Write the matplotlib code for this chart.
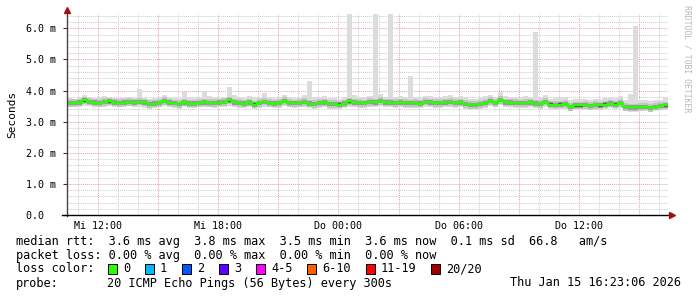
import numpy as np
import matplotlib
matplotlib.use("Agg")
import matplotlib.pyplot as plt
from matplotlib.lines import Line2D

# ---------------- data (ms), 15-minute steps from Wed 10:27 ----------------
start_hour = 10.45
step_hour = 0.25

rtt_median = [
    3.60, 3.60, 3.61, 3.68, 3.64, 3.61, 3.60, 3.63, 3.65, 3.61, 3.60, 3.61, 3.63, 3.61, 3.64, 3.62,
    3.57, 3.58, 3.60, 3.66, 3.61, 3.59, 3.57, 3.62, 3.58,
    3.58, 3.60, 3.62, 3.60, 3.60, 3.61, 3.63, 3.68, 3.62, 3.60, 3.58, 3.62, 3.55, 3.60, 3.64, 3.60,
    3.58, 3.60, 3.66, 3.60, 3.59, 3.60, 3.63, 3.58,
    3.57, 3.60, 3.62, 3.57, 3.57, 3.55, 3.58, 3.65, 3.62, 3.60, 3.59, 3.63, 3.62, 3.66, 3.62, 3.61,
    3.60, 3.62, 3.60, 3.59, 3.60, 3.58, 3.64, 3.62,
    3.60, 3.60, 3.62, 3.63, 3.60, 3.62, 3.57, 3.53, 3.54, 3.56, 3.60, 3.66, 3.60, 3.70, 3.62, 3.61,
    3.60, 3.59, 3.60, 3.62, 3.58, 3.56, 3.64,
    3.55, 3.54, 3.55, 3.56, 3.47, 3.52, 3.52, 3.53, 3.51, 3.53, 3.52, 3.55, 3.58, 3.55, 3.60, 3.47,
    3.46, 3.46, 3.47, 3.48, 3.44, 3.48, 3.50, 3.52,
]

rtt_max = [
    3.76, 3.74, 3.80, 3.85, 3.80, 3.76, 3.78, 3.82, 3.80, 3.76, 3.75, 3.78, 3.80, 3.77, 4.05, 3.80,
    3.74, 3.76, 3.78, 3.85, 3.80, 3.76, 3.75, 3.95, 3.78,
    3.76, 3.80, 4.00, 3.82, 3.78, 3.77, 3.80, 4.12, 3.85, 3.78, 3.76, 3.82, 3.78, 3.80, 3.92, 3.80,
    3.76, 3.78, 3.86, 3.80, 3.77, 3.78, 3.85, 4.30,
    3.80, 3.78, 3.82, 3.76, 3.75, 3.74, 3.80, 6.45, 3.85, 3.80, 3.78, 3.82, 6.45, 3.88, 3.80, 6.45,
    3.80, 3.82, 3.78, 4.47, 3.80, 3.78, 3.84, 3.82,
    3.78, 3.80, 3.84, 3.86, 3.80, 3.82, 3.78, 3.72, 3.74, 3.78, 3.82, 3.86, 3.80, 3.95, 3.84, 3.80,
    3.78, 3.80, 3.82, 3.80, 5.87, 3.78, 3.86,
    3.74, 3.76, 3.78, 3.80, 3.70, 3.72, 3.74, 3.72, 3.70, 3.74, 3.72, 3.76, 3.80, 3.76, 3.82, 3.68,
    3.90, 6.08, 3.70, 3.68, 3.66, 3.68, 3.70, 3.80,
]

rtt_min = [
    3.48, 3.47, 3.46, 3.50, 3.49, 3.46, 3.47, 3.48, 3.50, 3.47, 3.46, 3.48, 3.49, 3.47, 3.48, 3.45,
    3.42, 3.44, 3.46, 3.50, 3.46, 3.44, 3.42, 3.46, 3.44,
    3.44, 3.46, 3.48, 3.46, 3.45, 3.47, 3.48, 3.50, 3.47, 3.45, 3.43, 3.46, 3.40, 3.45, 3.48, 3.46,
    3.44, 3.45, 3.50, 3.46, 3.44, 3.46, 3.48, 3.43,
    3.42, 3.45, 3.47, 3.42, 3.42, 3.40, 3.43, 3.48, 3.47, 3.45, 3.44, 3.48, 3.47, 3.50, 3.47, 3.46,
    3.45, 3.47, 3.45, 3.44, 3.45, 3.43, 3.48, 3.47,
    3.45, 3.45, 3.47, 3.48, 3.45, 3.47, 3.42, 3.38, 3.40, 3.42, 3.45, 3.50, 3.46, 3.52, 3.47, 3.46,
    3.45, 3.44, 3.45, 3.47, 3.43, 3.41, 3.48,
    3.40, 3.40, 3.41, 3.42, 3.34, 3.38, 3.38, 3.39, 3.37, 3.39, 3.38, 3.41, 3.44, 3.41, 3.45, 3.33,
    3.32, 3.32, 3.33, 3.34, 3.31, 3.34, 3.36, 3.38,
]

xtick_hours = [12, 18, 24, 30, 36]
xtick_labels = ["Mi 12:00", "Mi 18:00", "Do 00:00", "Do 06:00", "Do 12:00"]
ytick_values = [0, 1, 2, 3, 4, 5, 6]
ytick_labels = ["0.0  ", "1.0 m", "2.0 m", "3.0 m", "4.0 m", "5.0 m", "6.0 m"]

loss_labels = ["0", "1", "2", "3", "4-5", "6-10", "11-19", "20/20"]
loss_colors = ["#26ff00", "#00b8ff", "#0059ff", "#5e00ff", "#ff00ff", "#ff5e00", "#ff0000", "#a10000"]

stats_line = "median rtt:  3.6 ms avg  3.8 ms max  3.5 ms min  3.6 ms now  0.1 ms sd  66.8   am/s"
loss_line = "packet loss: 0.00 % avg  0.00 % max  0.00 % min  0.00 % now"
probe_label = "probe:"
probe_text = "20 ICMP Echo Pings (56 Bytes) every 300s"
stamp_text = "Thu Jan 15 16:23:06 2026"

# ---------------- figure ----------------
W, H = 697, 297
fig = plt.figure(figsize=(W / 100, H / 100), dpi=100)
fig.patch.set_facecolor("white")

def fx(px):
    return px / W

def fy(py):
    return 1 - py / H

ax = fig.add_axes([fx(67), fy(215), fx(668) - fx(67), fy(14) - fy(215)])
ax.set_facecolor("white")

med = np.array(rtt_median)
mx = np.array(rtt_max)
mn = np.array(rtt_min)
n = len(med)
edges = start_hour + step_hour * np.arange(n + 1)
t_end = edges[-1]

def ext(a):
    return np.append(a, a[-1])

# smoke layers (outer light -> inner dark)
ax.fill_between(edges, ext(mn), ext(mx), step="post", color="#dcdcdc", lw=0, zorder=2)
for half, col, z in [(0.12, "#c4c4c4", 3), (0.07, "#9a9a9a", 4), (0.035, "#505050", 5)]:
    hi = np.minimum(mx, med + half)
    lo = np.maximum(mn, med - half)
    ax.fill_between(edges, ext(lo), ext(hi), step="post", color=col, lw=0, zorder=z)
ax.step(edges, ext(med), where="post", color=loss_colors[0], lw=1.7, zorder=6)

ax.set_xlim(start_hour, t_end)
ax.set_ylim(0, 6.46)

# grid
dots = (0, (1, 1))
for h in np.arange(11, 41, 1):
    major = (h % 3 == 0)
    ax.axvline(h, color="#e8a0a0" if major else "#cccccc", lw=0.7, ls=dots, zorder=1)
for v in np.arange(0.2, 6.45, 0.2):
    major = abs(v - round(v)) < 1e-6
    ax.axhline(v, color="#e8a0a0" if major else "#cccccc", lw=0.7, ls=dots, zorder=1)

for s in ax.spines.values():
    s.set_visible(False)

ax.set_xticks(xtick_hours)
ax.set_xticklabels(xtick_labels, family="DejaVu Sans Mono", fontsize=7.2, color="#000000")
ax.set_yticks(ytick_values)
ax.set_yticklabels(ytick_labels, family="DejaVu Sans Mono", fontsize=7.2, color="#000000")
ax.tick_params(axis="x", length=0, pad=4)
ax.tick_params(axis="y", length=3, width=0.8, color="#333333", pad=5)
ax.set_ylabel("Seconds", family="DejaVu Sans Mono", fontsize=8, labelpad=6)

# axes lines with arrows
fig.add_artist(Line2D([fx(67), fx(67)], [fy(216), fy(10)], color="#444444", lw=1.0))
fig.add_artist(Line2D([fx(62), fx(671)], [fy(215), fy(215)], color="#000000", lw=1.0))
fig.add_artist(Line2D([fx(67)], [fy(10)], marker="^", ms=4, color="#a01010", lw=0))
fig.add_artist(Line2D([fx(672)], [fy(215)], marker=">", ms=4, color="#a01010", lw=0))

# watermark
fig.text(fx(687), fy(5), "RRDTOOL / TOBI OETIKER", rotation=270, ha="center", va="top",
         family="DejaVu Sans Mono", fontsize=5.9, color="#b8b8b8")

# legend / stats text
fs = 8.55
mono = dict(family="DejaVu Sans Mono", fontsize=fs, color="#000000", va="center")
fig.text(fx(16), fy(241), stats_line, **mono)
fig.text(fx(16), fy(255.5), loss_line, **mono)
fig.text(fx(16), fy(269), "loss color:", **mono)
box_x = [108, 145, 182, 219, 256, 307, 366, 431]
for bx, lab, col in zip(box_x, loss_labels, loss_colors):
    fig.patches.append(plt.Rectangle((fx(bx), fy(274)), fx(9), fy(264) - fy(274),
                                     transform=fig.transFigure, facecolor=col,
                                     edgecolor="#000000", lw=0.7))
    fig.text(fx(bx + 15), fy(269), lab, **mono)
fig.text(fx(16), fy(283), probe_label, **mono)
fig.text(fx(107), fy(283), probe_text, **mono)
fig.text(fx(681), fy(283), stamp_text, ha="right", family="DejaVu Sans Mono", fontsize=fs,
         color="#000000", va="center")

fig.savefig("out.png", dpi=100, facecolor="white")
